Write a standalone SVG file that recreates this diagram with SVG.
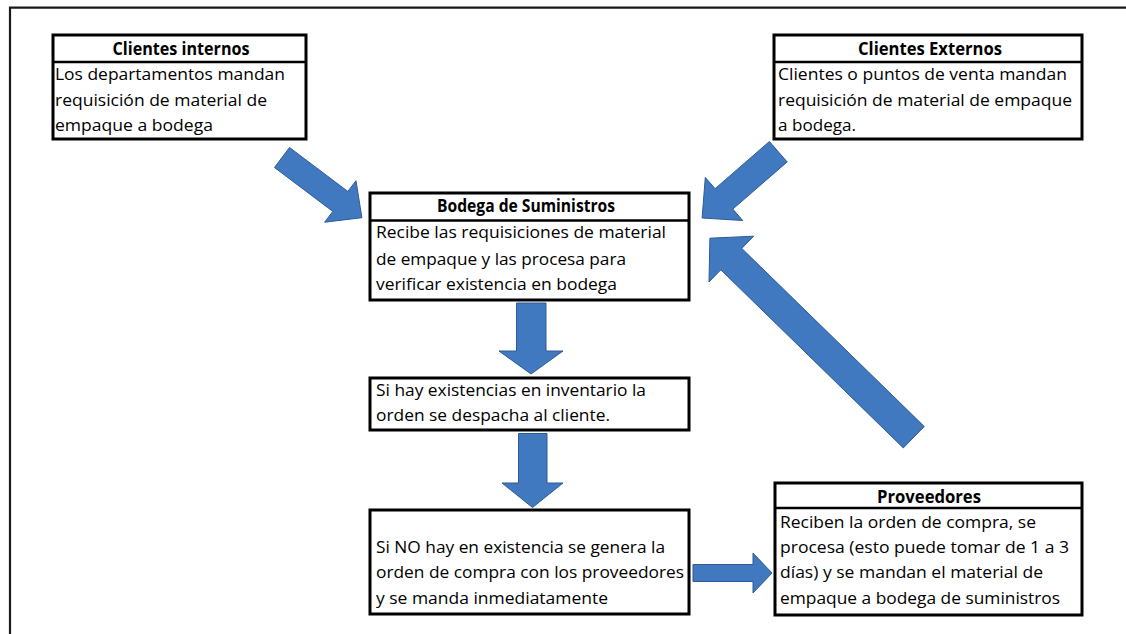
<svg xmlns="http://www.w3.org/2000/svg" width="1126" height="634" viewBox="0 0 1126 634">
<style>
.box{fill:#fff;stroke:#000;stroke-width:3}
.sep{stroke:#000;stroke-width:2.6}
.t{font-family:"Open Sans","Liberation Sans",Arial,sans-serif;font-size:17px;fill:#000}
.h{font-family:"Open Sans","Liberation Sans",Arial,sans-serif;font-size:17px;font-weight:bold;fill:#000;text-anchor:middle}
.arr{fill:#4079C0;stroke:#2F5B94;stroke-width:1;stroke-linejoin:miter}
.frame{stroke:#1a1a1a;stroke-width:2.2;fill:none}
</style>
<rect x="0" y="0" width="1126" height="634" fill="#fff"/>
<path class="frame" d="M10,634 V7.7 H1126"/>

<g id="connectors">
<polygon class="arr" points="289.5,147.5 347.8,191.4 356,180.7 361.9,217.7 324.7,222.2 332.8,211.4 274.5,167.5"/>
<polygon class="arr" points="769.4,141.5 715.1,188.7 705.3,177.4 702.1,218 742.7,220.5 732.8,209.1 787.2,161.9"/>
<polygon class="arr" points="924.3,426.5 741.8,248.4 753.7,236.2 709.9,238.2 709,282 720.8,269.8 903.3,447.9"/>
<polygon class="arr" points="516.5,303 546,303 546,351 563,351 531,374 499,351 516.5,351"/>
<polygon class="arr" points="518.5,433.5 547,433.5 547,483 563,483 532.5,507.5 502,483 518.5,483"/>
<polygon class="arr" points="693,564.5 753,564.5 753,553 772,573 753,593 753,581.5 693,581.5"/>
</g>

<g id="clientes-internos">
<rect class="box" x="53" y="35" width="253" height="104"/>
<line class="sep" x1="53" y1="62" x2="306" y2="62"/>
<text class="h" x="181" y="55" textLength="137" lengthAdjust="spacingAndGlyphs">Clientes internos</text>
<text class="t" x="55" y="80" textLength="230" lengthAdjust="spacingAndGlyphs">Los departamentos mandan</text>
<text class="t" x="55" y="106" textLength="212" lengthAdjust="spacingAndGlyphs">requisición de material de</text>
<text class="t" x="55" y="131" textLength="158" lengthAdjust="spacingAndGlyphs">empaque a bodega</text>
</g>

<g id="clientes-externos">
<rect class="box" x="774" y="35" width="308" height="104"/>
<line class="sep" x1="774" y1="62" x2="1082" y2="62"/>
<text class="h" x="930" y="55" textLength="144" lengthAdjust="spacingAndGlyphs">Clientes Externos</text>
<text class="t" x="778" y="80" textLength="289" lengthAdjust="spacingAndGlyphs">Clientes o puntos de venta mandan</text>
<text class="t" x="778" y="106" textLength="294" lengthAdjust="spacingAndGlyphs">requisición de material de empaque</text>
<text class="t" x="778" y="131" textLength="78" lengthAdjust="spacingAndGlyphs">a bodega.</text>
</g>

<g id="bodega-suministros">
<rect class="box" x="370" y="193" width="319" height="107"/>
<line class="sep" x1="370" y1="220.5" x2="689" y2="220.5"/>
<text class="h" x="526" y="212" textLength="178" lengthAdjust="spacingAndGlyphs">Bodega de Suministros</text>
<text class="t" x="376" y="238" textLength="290" lengthAdjust="spacingAndGlyphs">Recibe las requisiciones de material</text>
<text class="t" x="376" y="265" textLength="250" lengthAdjust="spacingAndGlyphs">de empaque y las procesa para</text>
<text class="t" x="376" y="290" textLength="241" lengthAdjust="spacingAndGlyphs">verificar existencia en bodega</text>
</g>

<g id="hay-existencias">
<rect class="box" x="370" y="378" width="319" height="52"/>
<text class="t" x="376" y="396" textLength="270" lengthAdjust="spacingAndGlyphs">Si hay existencias en inventario la</text>
<text class="t" x="376" y="421" textLength="234" lengthAdjust="spacingAndGlyphs">orden se despacha al cliente.</text>
</g>

<g id="no-hay-existencia">
<rect class="box" x="370" y="510" width="319" height="104"/>
<text class="t" x="376" y="553" textLength="289" lengthAdjust="spacingAndGlyphs">Si NO hay en existencia se genera la</text>
<text class="t" x="376" y="578" textLength="308" lengthAdjust="spacingAndGlyphs">orden de compra con los proveedores</text>
<text class="t" x="376" y="604" textLength="232" lengthAdjust="spacingAndGlyphs">y se manda inmediatamente</text>
</g>

<g id="proveedores">
<rect class="box" x="775" y="483" width="307" height="132"/>
<line class="sep" x1="775" y1="508" x2="1082" y2="508"/>
<text class="h" x="929" y="503" textLength="104" lengthAdjust="spacingAndGlyphs">Proveedores</text>
<text class="t" x="780" y="528" textLength="256" lengthAdjust="spacingAndGlyphs">Reciben la orden de compra, se</text>
<text class="t" x="780" y="553" textLength="289" lengthAdjust="spacingAndGlyphs">procesa (esto puede tomar de 1 a 3</text>
<text class="t" x="780" y="578" textLength="263" lengthAdjust="spacingAndGlyphs">días) y se mandan el material de</text>
<text class="t" x="780" y="604" textLength="280" lengthAdjust="spacingAndGlyphs">empaque a bodega de suministros</text>
</g>
</svg>
